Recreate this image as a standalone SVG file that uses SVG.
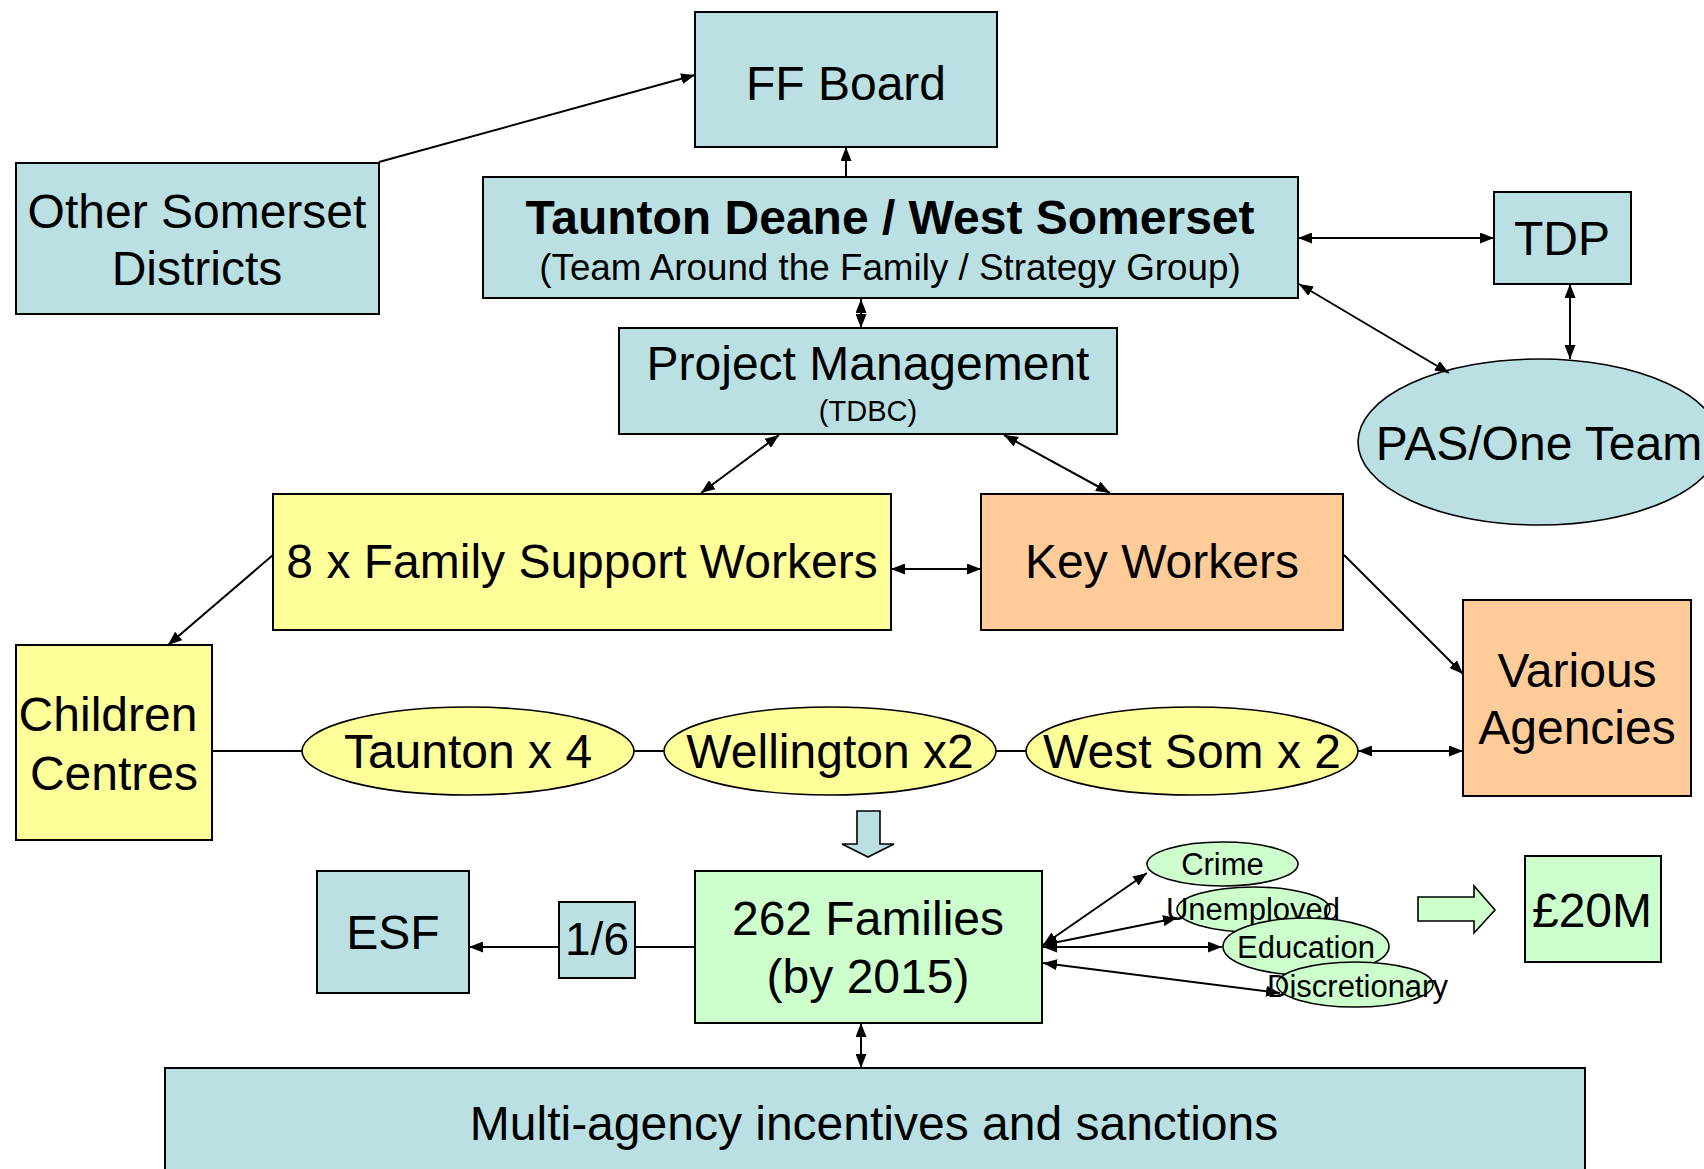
<svg xmlns="http://www.w3.org/2000/svg" width="1704" height="1169" viewBox="0 0 1704 1169">
  <defs>
    <style>
      text { font-family: "Liberation Sans", Arial, sans-serif; fill: #000; text-anchor: middle; }
      .box { stroke: #000; stroke-width: 2; }
      .ell { stroke: #000; stroke-width: 1.6; }
      .blue { fill: #BBE0E3; }
      .yellow { fill: #FFFF99; }
      .orange { fill: #FFCC99; }
      .green { fill: #CCFFCC; }
      .big { font-size: 48px; }
      .small { font-size: 31px; }
      .link { stroke: #000; stroke-width: 2; fill: none; }
      .one { marker-end: url(#ah); }
      .two { marker-start: url(#ah); marker-end: url(#ah); }
      .block { stroke: #000; stroke-width: 1.6; }
    </style>
    <marker id="ah" viewBox="0 0 14 11" refX="14" refY="5.5" markerWidth="14" markerHeight="11" markerUnits="userSpaceOnUse" orient="auto-start-reverse">
      <path d="M0,0 L14,5.5 L0,11 z" fill="#000"/>
    </marker>
  </defs>

  <rect width="1704" height="1169" fill="#fff"/>

  <!-- nodes -->
  <g id="ff-board">
    <rect class="box blue" x="695" y="12" width="302" height="135"/>
    <text class="big" x="846" y="100">FF Board</text>
  </g>
  <g id="other-somerset">
    <rect class="box blue" x="16" y="163" width="363" height="151"/>
    <text class="big" x="197" y="228">Other Somerset</text>
    <text class="big" x="197" y="285">Districts</text>
  </g>
  <g id="taunton-deane">
    <rect class="box blue" x="483" y="177" width="815" height="121"/>
    <text class="big" x="890" y="234" font-weight="bold">Taunton Deane / West Somerset</text>
    <text x="890" y="280" font-size="36.8px">(Team Around the Family / Strategy Group)</text>
  </g>
  <g id="tdp">
    <rect class="box blue" x="1494" y="192" width="137" height="92"/>
    <text class="big" x="1562" y="255">TDP</text>
  </g>
  <g id="pas-one-team">
    <ellipse class="ell blue" cx="1539" cy="442" rx="181" ry="83"/>
    <text class="big" x="1539" y="460">PAS/One Team</text>
  </g>
  <g id="project-management">
    <rect class="box blue" x="619" y="328" width="498" height="106"/>
    <text class="big" x="868" y="380">Project Management</text>
    <text x="868" y="421" font-size="29px">(TDBC)</text>
  </g>
  <g id="family-support-workers">
    <rect class="box yellow" x="273" y="494" width="618" height="136"/>
    <text class="big" x="582" y="578">8 x Family Support Workers</text>
  </g>
  <g id="key-workers">
    <rect class="box orange" x="981" y="494" width="362" height="136"/>
    <text class="big" x="1162" y="578">Key Workers</text>
  </g>
  <g id="children-centres">
    <rect class="box yellow" x="16" y="645" width="196" height="195"/>
    <text class="big" x="108" y="731">Children</text>
    <text class="big" x="114" y="790">Centres</text>
  </g>
  <g id="various-agencies">
    <rect class="box orange" x="1463" y="600" width="228" height="196"/>
    <text class="big" x="1577" y="687">Various</text>
    <text class="big" x="1577" y="744">Agencies</text>
  </g>
  <g id="taunton-x4">
    <ellipse class="ell yellow" cx="468" cy="751" rx="166" ry="44"/>
    <text class="big" x="468" y="768">Taunton x 4</text>
  </g>
  <g id="wellington-x2">
    <ellipse class="ell yellow" cx="830" cy="751" rx="166" ry="44"/>
    <text class="big" x="830" y="768">Wellington x2</text>
  </g>
  <g id="west-som-x2">
    <ellipse class="ell yellow" cx="1192" cy="751" rx="166" ry="44"/>
    <text class="big" x="1192" y="768">West Som x 2</text>
  </g>
  <g id="down-arrow">
    <polygon class="block blue" points="857,811 880,811 880,844 894,844 868,857 842,844 857,844"/>
  </g>
  <g id="esf">
    <rect class="box blue" x="317" y="871" width="152" height="122"/>
    <text class="big" x="393" y="949">ESF</text>
  </g>
  <g id="one-sixth">
    <rect class="box blue" x="559" y="902" width="76" height="76"/>
    <text x="597" y="955" font-size="46px">1/6</text>
  </g>
  <g id="families">
    <rect class="box green" x="695" y="871" width="347" height="152"/>
    <text class="big" x="868" y="935">262 Families</text>
    <text class="big" x="868" y="993">(by 2015)</text>
  </g>
  <g id="crime">
    <ellipse class="ell green" cx="1222.5" cy="864" rx="75.5" ry="22"/>
    <text class="small" x="1222.5" y="875">Crime</text>
  </g>
  <g id="unemployed">
    <ellipse class="ell green" cx="1253.5" cy="909.5" rx="76.5" ry="22.5"/>
    <text class="small" x="1253" y="920">Unemployed</text>
  </g>
  <g id="education">
    <ellipse class="ell green" cx="1306" cy="946.5" rx="83" ry="28.5"/>
    <text class="small" x="1306" y="958">Education</text>
  </g>
  <g id="discretionary">
    <ellipse class="ell green" cx="1355" cy="984.5" rx="78" ry="22.5"/>
    <text class="small" x="1357.5" y="997">Discretionary</text>
  </g>
  <g id="right-arrow">
    <polygon class="block green" points="1418,897 1474,897 1474,886 1495,910 1474,933 1474,921 1418,921"/>
  </g>
  <g id="twenty-million">
    <rect class="box green" x="1525" y="856" width="136" height="106"/>
    <text class="big" x="1592" y="927">£20M</text>
  </g>
  <g id="multi-agency">
    <rect class="box blue" x="165" y="1068" width="1420" height="120"/>
    <text class="big" x="874" y="1140">Multi-agency incentives and sanctions</text>
  </g>

  <!-- connectors -->
  <g id="connectors">
    <line class="link one" x1="379" y1="162" x2="695" y2="75"/>
    <line class="link one" x1="846" y1="177" x2="846" y2="147"/>
    <line class="link two" x1="1298" y1="238" x2="1494" y2="238"/>
    <line class="link two" x1="1299" y1="284" x2="1449" y2="373"/>
    <line class="link two" x1="1570" y1="284" x2="1570" y2="359"/>
    <line class="link two" x1="861" y1="299" x2="861" y2="328"/>
    <line class="link two" x1="779" y1="435" x2="701" y2="493"/>
    <line class="link two" x1="1004" y1="435" x2="1110" y2="493"/>
    <line class="link two" x1="891" y1="569" x2="981" y2="569"/>
    <line class="link one" x1="273" y1="555" x2="168" y2="645"/>
    <line class="link one" x1="1344" y1="555" x2="1463" y2="674"/>
    <line class="link" x1="212" y1="751" x2="302" y2="751"/>
    <line class="link" x1="634" y1="751" x2="664" y2="751"/>
    <line class="link" x1="996" y1="751" x2="1026" y2="751"/>
    <line class="link two" x1="1358" y1="751" x2="1463" y2="751"/>
    <line class="link" x1="635" y1="947" x2="695" y2="947"/>
    <line class="link one" x1="559" y1="947" x2="469" y2="947"/>
    <line class="link two" x1="861" y1="1023" x2="861" y2="1068"/>
    <line class="link two" x1="1043" y1="945" x2="1147" y2="873"/>
    <line class="link two" x1="1043" y1="945" x2="1177" y2="918"/>
    <line class="link two" x1="1043" y1="947" x2="1222" y2="947"/>
    <line class="link two" x1="1043" y1="963" x2="1280" y2="993"/>
  </g>
</svg>
